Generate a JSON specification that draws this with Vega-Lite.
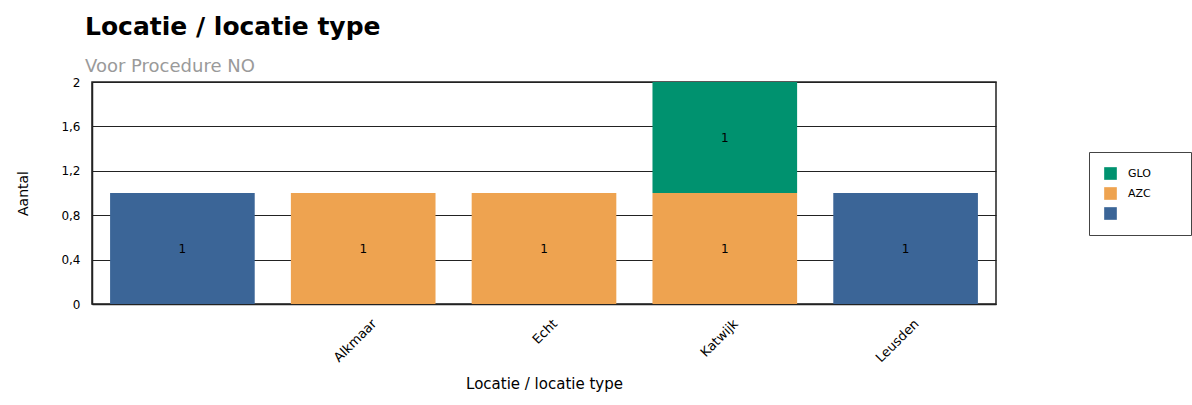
{
  "$schema": "https://vega.github.io/schema/vega-lite/v6.json",
  "autosize": {"type": "none"},
  "padding": {"left": 92, "top": 82, "right": 196, "bottom": 101},
  "width": 904,
  "height": 222,
  "background": "white",
  "title": {
    "text": "Locatie / locatie type",
    "subtitle": "Voor Procedure NO",
    "anchor": "start",
    "frame": "group",
    "dx": -7,
    "offset": 0,
    "font": "DejaVu Sans",
    "fontSize": 25,
    "fontWeight": "bold",
    "color": "#000000",
    "subtitleFont": "DejaVu Sans",
    "subtitleFontSize": 18,
    "subtitleColor": "#9a9a9a",
    "subtitlePadding": 18
  },
  "data": {
    "values": [
      {"locatie": "", "type": "", "aantal": 1},
      {"locatie": "Alkmaar", "type": "AZC", "aantal": 1},
      {"locatie": "Echt", "type": "AZC", "aantal": 1},
      {"locatie": "Katwijk", "type": "AZC", "aantal": 1},
      {"locatie": "Katwijk", "type": "GLO", "aantal": 1},
      {"locatie": "Leusden", "type": "", "aantal": 1}
    ]
  },
  "config": {
    "view": {"stroke": "#222222", "strokeWidth": 1.5},
    "axis": {
      "labelFont": "DejaVu Sans",
      "labelFontSize": 12,
      "labelColor": "#000000",
      "titleFont": "DejaVu Sans",
      "titleFontSize": 14,
      "titleFontWeight": "normal",
      "titleColor": "#000000",
      "domainColor": "#222222",
      "domainWidth": 1.5
    }
  },
  "encoding": {
    "x": {
      "field": "locatie",
      "type": "nominal",
      "sort": ["", "Alkmaar", "Echt", "Katwijk", "Leusden"],
      "scale": {"paddingInner": 0.2, "paddingOuter": 0.1},
      "axis": {
        "title": "Locatie / locatie type",
        "titleFontSize": 15,
        "labelAngle": -45,
        "labelFontSize": 13,
        "labelOffset": 7,
        "labelPadding": 13,
        "ticks": false,
        "titlePadding": 12
      }
    }
  },
  "layer": [
    {
      "mark": {"type": "bar"},
      "encoding": {
        "y": {
          "field": "aantal",
          "type": "quantitative",
          "stack": "zero",
          "scale": {"domain": [0, 2]},
          "axis": {
            "title": "Aantal",
            "values": [0, 0.4, 0.8, 1.2, 1.6, 2],
            "labelExpr": "replace(format(datum.value, '.1~f'), '.', ',')",
            "ticks": false,
            "labelPadding": 12,
            "grid": true,
            "gridColor": "#222222",
            "gridWidth": 1.2,
            "gridOpacity": 1,
            "titlePadding": 30
          }
        },
        "color": {
          "field": "type",
          "type": "nominal",
          "scale": {
            "domain": ["GLO", "AZC", ""],
            "range": ["#00926f", "#eea350", "#3b6597"]
          },
          "legend": {
            "title": null,
            "orient": "none",
            "legendX": 997,
            "legendY": 70,
            "strokeColor": "#444444",
            "padding": 15,
            "symbolType": "square",
            "symbolSize": 160,
            "symbolStrokeWidth": 0,
            "symbolOpacity": 1,
            "labelFont": "DejaVu Sans",
            "labelFontSize": 11,
            "labelColor": "#000000",
            "labelOffset": 11,
            "rowPadding": 7,
            "labelExpr": "datum.label + '\u2800\u2800\u2800'"
          }
        },
        "order": {"field": "type", "sort": "ascending"}
      }
    },
    {
      "mark": {"type": "text", "font": "DejaVu Sans", "fontSize": 12, "color": "#000000"},
      "encoding": {
        "y": {
          "field": "aantal",
          "type": "quantitative",
          "stack": "zero",
          "bandPosition": 0.5
        },
        "detail": {"field": "type"},
        "order": {"field": "type", "sort": "ascending"},
        "text": {"field": "aantal", "type": "quantitative"}
      }
    }
  ]
}
